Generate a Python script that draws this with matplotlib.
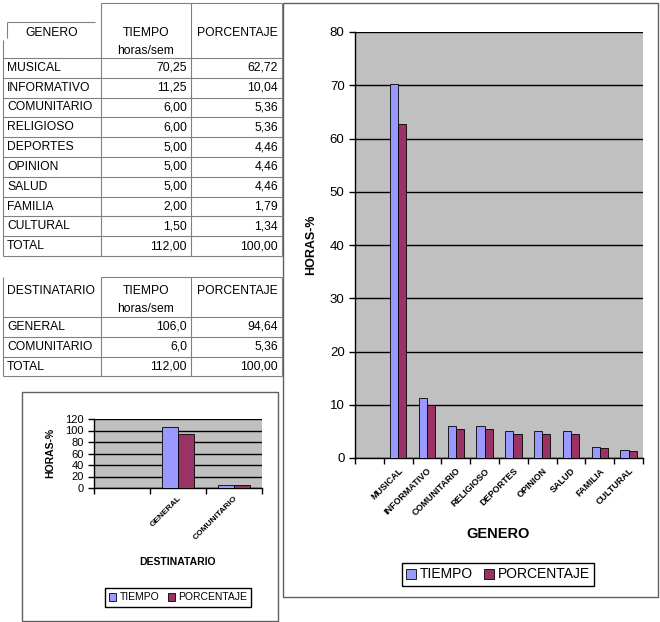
import numpy as np
import matplotlib.pyplot as plt
from matplotlib.patches import Rectangle

plt.rcParams['font.family'] = ['Liberation Sans', 'DejaVu Sans']

# data
genero = ["MUSICAL", "INFORMATIVO", "COMUNITARIO", "RELIGIOSO", "DEPORTES",
          "OPINION", "SALUD", "FAMILIA", "CULTURAL"]
genero_tiempo = [70.25, 11.25, 6.00, 6.00, 5.00, 5.00, 5.00, 2.00, 1.50]
genero_pct = [62.72, 10.04, 5.36, 5.36, 4.46, 4.46, 4.46, 1.79, 1.34]
genero_total = [112.00, 100.00]

destinatario = ["GENERAL", "COMUNITARIO"]
dest_tiempo = [106.0, 6.0]
dest_pct = [94.64, 5.36]
dest_total = [112.00, 100.00]

series = ["TIEMPO", "PORCENTAJE"]
colors = ["#9999FF", "#993366"]
W, H = 660, 622
GRID = "#808080"


def fmt(v, d=2):
    return ("%.*f" % (d, v)).replace(".", ",")


def fx(x):
    return x / W


def fy(y):
    return 1 - y / H


fig = plt.figure(figsize=(6.6, 6.22), dpi=100)

# background layer for tables and frames (pixel coordinates)
bg = fig.add_axes([0, 0, 1, 1])
bg.set_xlim(0, W)
bg.set_ylim(H, 0)
bg.axis("off")


def hline(y, x0, x1, c=GRID, lw=0.8):
    bg.plot([x0, x1], [y, y], color=c, lw=lw, solid_capstyle="butt")


def vline(x, y0, y1, c=GRID, lw=0.8):
    bg.plot([x, x], [y0, y1], color=c, lw=lw, solid_capstyle="butt")


tfs = 8.7
cols = [3, 101, 191, 282]


def draw_table(top, head_bottom, labels, c1, c2, d1=2):
    rows = list(zip(labels, c1, c2))
    rh = 19.8
    lines = [head_bottom + rh * i for i in range(len(rows) + 1)]
    for y in lines:
        hline(y, cols[0], cols[3])
    for x in cols[1:]:
        vline(x, top, lines[-1])
    hline(top, cols[1], cols[3])
    ty = head_bottom - 25.5
    bg.text(146, ty, "TIEMPO", ha="center", va="center", fontsize=tfs)
    bg.text(146, head_bottom - 7.5, "horas/sem", ha="center", va="center", fontsize=tfs)
    bg.text(237, ty, "PORCENTAJE", ha="center", va="center", fontsize=tfs)
    for i, (lab, a, b) in enumerate(rows):
        yc = (lines[i] + lines[i + 1]) / 2
        bg.text(7, yc, lab, ha="left", va="center", fontsize=tfs)
        dd = d1 if lab != "TOTAL" else 2
        bg.text(187, yc, fmt(a, dd), ha="right", va="center", fontsize=tfs)
        bg.text(278, yc, fmt(b), ha="right", va="center", fontsize=tfs)
    return ty, lines


# top table
ty, lines = draw_table(3, 58, genero + ["TOTAL"], genero_tiempo + [genero_total[0]],
                       genero_pct + [genero_total[1]])
bg.text(52, ty, "GENERO", ha="center", va="center", fontsize=tfs)
hline(22, 7, 95)
vline(7, 22, 38)
vline(cols[0], 40, lines[-1])

# second table
ty, lines = draw_table(277, 317, destinatario + ["TOTAL"], dest_tiempo + [dest_total[0]],
                       dest_pct + [dest_total[1]], d1=1)
bg.text(7, ty, "DESTINATARIO", ha="left", va="center", fontsize=tfs)
vline(cols[0], 277, lines[-1])

# chart frames
bg.add_patch(Rectangle((283, 3), 375, 594, fill=False, ec="#606060", lw=1))
bg.add_patch(Rectangle((22, 392), 256, 229, fill=False, ec="#606060", lw=1))

bw = 1 / 3.5


def bar_chart(rect, cats, v1, v2, ymax, ystep, tick_fs, xtick_fs, pad):
    ax = fig.add_axes(rect)
    x = np.arange(len(cats)) + 1
    ax.set_facecolor("#C0C0C0")
    ax.bar(x - bw / 2, v1, bw, color=colors[0], edgecolor="black", lw=0.6, zorder=3, label=series[0])
    ax.bar(x + bw / 2, v2, bw, color=colors[1], edgecolor="black", lw=0.6, zorder=3, label=series[1])
    ax.set_xlim(-0.5, len(cats) + 0.5)
    ax.set_ylim(0, ymax)
    ax.set_yticks(np.arange(0, ymax + 1, ystep))
    ax.yaxis.grid(True, color="black", lw=1, zorder=1)
    for s in ["top", "right"]:
        ax.spines[s].set_visible(False)
    ax.spines["left"].set_linewidth(1)
    ax.spines["bottom"].set_linewidth(1)
    ax.set_xticks(x)
    ax.set_xticklabels(cats, rotation=45, ha="right", rotation_mode="anchor",
                       fontsize=xtick_fs, fontweight="bold")
    ax.set_xticks(np.arange(len(cats) + 2) - 0.5, minor=True)
    ax.tick_params(axis="x", which="major", length=0, pad=pad)
    ax.tick_params(axis="x", which="minor", length=4, direction="out", width=1)
    ax.tick_params(axis="y", length=4, direction="out", width=1, labelsize=tick_fs)
    return ax


# big chart
ax = bar_chart([fx(355), fy(458), fx(643) - fx(355), fy(32) - fy(458)],
               genero, genero_tiempo, genero_pct, 80, 10, 9.5, 6.5, 6)
fig.text(fx(311), fy(245), "HORAS-%", rotation=90, ha="center", va="center",
         fontsize=9, fontweight="bold")
fig.text(fx(498), fy(534), "GENERO", ha="center", va="center", fontsize=10.5, fontweight="bold")
h, l = ax.get_legend_handles_labels()
fig.legend(h, l, loc="center", bbox_to_anchor=(fx(498), fy(574.5)), ncol=2, fontsize=10,
           frameon=True, fancybox=False, edgecolor="black", framealpha=1,
           handlelength=0.7, handleheight=0.7, handletextpad=0.3, columnspacing=0.8,
           borderpad=0.3)

# small chart
ax2 = bar_chart([fx(94), fy(488), fx(262) - fx(94), fy(419) - fy(488)],
                destinatario, dest_tiempo, dest_pct, 120, 20, 8, 6, 5)
fig.text(fx(50), fy(453), "HORAS-%", rotation=90, ha="center", va="center",
         fontsize=7.5, fontweight="bold")
fig.text(fx(177), fy(562), "DESTINATARIO", ha="center", va="center", fontsize=7.5, fontweight="bold")
h, l = ax2.get_legend_handles_labels()
fig.legend(h, l, loc="center", bbox_to_anchor=(fx(178), fy(597.5)), ncol=2, fontsize=7.5,
           frameon=True, fancybox=False, edgecolor="black", framealpha=1,
           handlelength=0.7, handleheight=0.7, handletextpad=0.3, columnspacing=0.8,
           borderpad=0.4)

fig.savefig("out.png", dpi=100)
